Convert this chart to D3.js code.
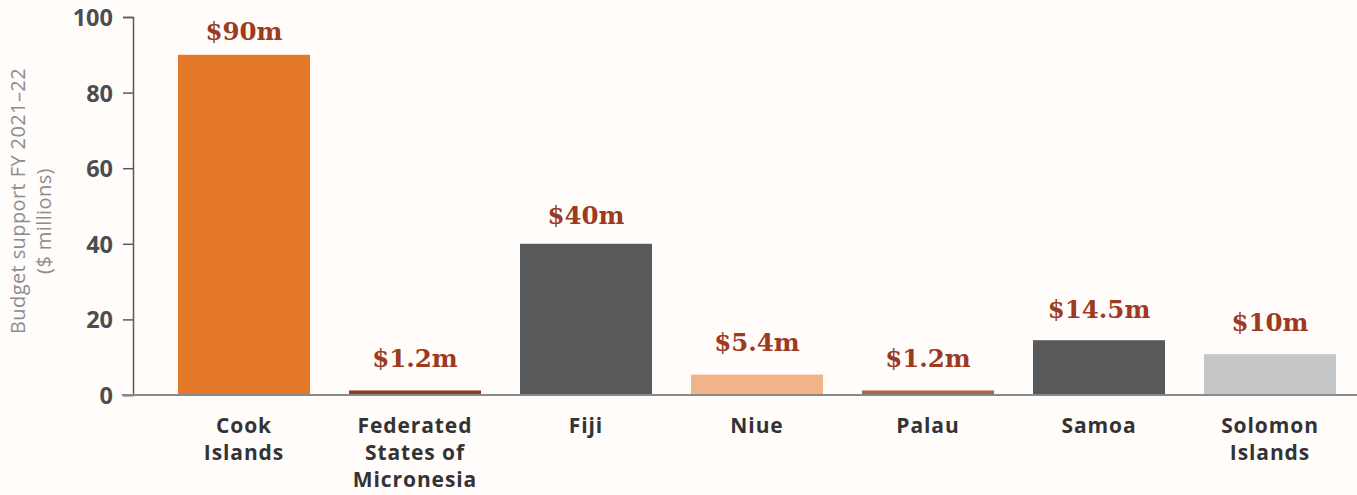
<!DOCTYPE html>
<html>
<head>
<meta charset="utf-8">
<script src="https://cdn.jsdelivr.net/npm/d3@7"></script>
<style>
  html, body { margin: 0; padding: 0; background: #fffcf9; }
  svg { display: block; }
</style>
</head>
<body>
<script>
"use strict";

// Budget support by country, FY 2021-22
const countries = ["Cook Islands", "Federated States of Micronesia", "Fiji", "Niue", "Palau", "Samoa", "Solomon Islands"];
const countryLines = [["Cook", "Islands"], ["Federated", "States of", "Micronesia"], ["Fiji"], ["Niue"], ["Palau"], ["Samoa"], ["Solomon", "Islands"]];
const values = [90, 1.2, 40, 5.4, 1.2, 14.5, 10.8];
const valueLabels = ["$90m", "$1.2m", "$40m", "$5.4m", "$1.2m", "$14.5m", "$10m"];
const barColours = ["#e37829", "#8f3b27", "#58595b", "#f1b488", "#a9654b", "#58595b", "#c5c6c8"];
const yTicks = [0, 20, 40, 60, 80, 100];

const width = 1357, height = 495;

const svg = d3.select("body").append("svg")
    .attr("width", width)
    .attr("height", height);

const x = d3.scaleBand()
    .domain(countries)
    .range([158.5, 1355.5])
    .paddingInner(0.228)
    .paddingOuter(0.114);

const y = d3.scaleLinear()
    .domain([0, 100])
    .range([395, 17]);

// y axis
const yAxis = svg.append("g")
    .attr("transform", "translate(133,0)")
    .call(d3.axisLeft(y).tickValues(yTicks).tickSize(10).tickPadding(10));
yAxis.select(".domain").attr("stroke", "#5a5a5c").attr("stroke-width", 1.5);
yAxis.selectAll(".tick line").attr("stroke", "#5a5a5c").attr("stroke-width", 1.5);
yAxis.selectAll(".tick text")
    .attr("fill", "#4d4d4f")
    .attr("font-family", "'Open Sans', sans-serif")
    .attr("font-weight", 700)
    .attr("font-size", 23.5)
    .attr("dy", "0.36em");

// axis title
const title = svg.append("text")
    .attr("transform", "rotate(-90)")
    .attr("fill", "#8d8d8f")
    .attr("font-family", "'Open Sans', sans-serif")
    .attr("font-size", 20)
    .attr("letter-spacing", 0.4)
    .attr("text-anchor", "middle");
title.append("tspan").attr("x", -201).attr("y", 25).text("Budget support FY 2021–22");
title.append("tspan").attr("x", -221).attr("y", 51).text("($ millions)");

// bars
svg.append("g")
  .selectAll("rect")
  .data(values)
  .join("rect")
    .attr("x", (d, i) => x(countries[i]))
    .attr("width", x.bandwidth())
    .attr("y", d => y(d))
    .attr("height", d => y(0) - y(d))
    .attr("fill", (d, i) => barColours[i]);

// baseline
svg.append("line")
    .attr("x1", 122).attr("x2", width)
    .attr("y1", y(0)).attr("y2", y(0))
    .attr("stroke", "#8a8a8c")
    .attr("stroke-width", 2);

// value labels
svg.append("g")
  .selectAll("text")
  .data(values)
  .join("text")
    .attr("x", (d, i) => x(countries[i]) + x.bandwidth() / 2)
    .attr("y", d => y(d) - 15 - 9 * (1 - d / 90))
    .attr("text-anchor", "middle")
    .attr("fill", "#9c3a22")
    .attr("font-family", "'DejaVu Serif', serif")
    .attr("font-weight", 700)
    .attr("font-size", 24.5)
    .text((d, i) => valueLabels[i]);

// category labels
const cat = svg.append("g")
  .selectAll("text")
  .data(countries)
  .join("text")
    .attr("text-anchor", "middle")
    .attr("fill", "#333335")
    .attr("font-family", "'Open Sans', sans-serif")
    .attr("font-weight", 700)
    .attr("font-size", 21)
    .attr("letter-spacing", 0.9);
cat.each(function (d, i) {
  const cx = x(d) + x.bandwidth() / 2;
  d3.select(this).selectAll("tspan")
    .data(countryLines[i])
    .join("tspan")
      .attr("x", cx)
      .attr("y", (t, j) => 433 + j * 27)
      .text(t => t);
});
</script>
</body>
</html>
